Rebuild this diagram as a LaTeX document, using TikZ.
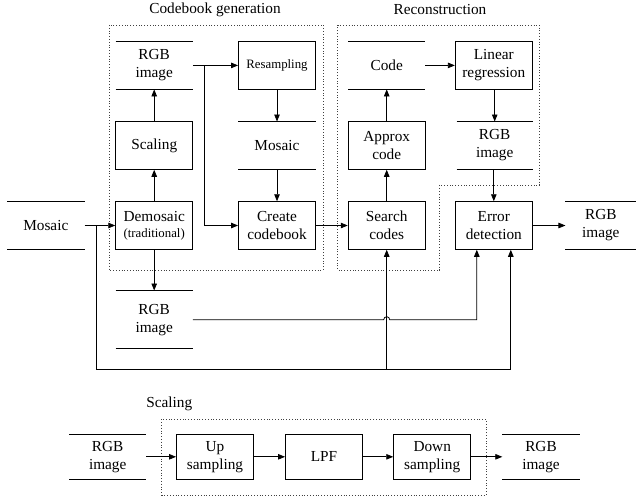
\documentclass[tikz,border=0pt]{standalone}
\usepackage{fontspec}
\setmainfont{Liberation Serif}
\usetikzlibrary{arrows.meta}
\newcommand\smtext{\fontsize{12.8}{15}\selectfont}

\begin{document}
\begin{tikzpicture}[x=1pt,y=-1pt,
  font=\fontsize{15.3}{18}\selectfont,
  blk/.style={draw,line width=0.9pt,minimum width=77pt,minimum height=47.6pt,align=center,inner sep=1pt},
  store/.style={minimum width=77pt,minimum height=47.6pt,align=center,inner sep=1pt},
  flow/.style={line width=0.8pt,-{Triangle[length=7pt,width=5.5pt]}},
  group/.style={dotted,line width=0.8pt,black!75}]
\useasboundingbox (0,0) rectangle (636,498);

% groups
\draw[group] (109,25) rectangle (323,270);
\draw[group] (337.5,25) -- (539.3,25) -- (539.3,185) -- (439.5,185) -- (439.5,270) -- (337.5,270) -- cycle;
\draw[group] (161.7,419.3) rectangle (486,495);
\draw (215,10) node (cbtitle) {Codebook generation};
\draw (440,10) node (rctitle) {Reconstruction};
\draw (169.3,404) node (sctitle) {Scaling};

% codebook generation
\draw (45.8,225.5) node[store] (mosaicIn) {Mosaic};
\draw (154.2,225.5) node[blk] (demosaic) {Demosaic\\[-2pt]{\smtext(traditional)}};
\draw (154.2,145.5) node[blk] (scaling) {Scaling};
\draw (154.2,65.4) node[store] (rgbTop) {RGB\\image};
\draw (154.2,319.7) node[store,minimum height=58pt] (rgbBot) {RGB\\image};
\draw (277,65.4) node[blk] (resamp) {\smtext Resampling};
\draw (277,145.5) node[store] (mosaicMid) {Mosaic};
\draw (277,225.5) node[blk] (create) {Create\\codebook};

% reconstruction
\draw (386.7,225.5) node[blk] (search) {Search\\codes};
\draw (386.7,145.5) node[blk] (approx) {Approx\\code};
\draw (386.7,65.4) node[store] (code) {Code};
\draw (493.8,65.4) node[blk] (linreg) {Linear\\regression};
\draw (494.7,145.5) node[store,minimum width=76pt] (rgbMid) {RGB\\image};
\draw (493.8,225.5) node[blk] (errdet) {Error\\detection};
\draw (600.8,225.5) node[store,minimum width=70.3pt] (rgbOut) {RGB\\image};

% scaling
\draw (107.7,456.8) node[store,minimum height=45pt] (rgbIn2) {RGB\\image};
\draw (215,456.8) node[blk,minimum height=45pt] (upS) {Up\\sampling};
\draw (324,456.8) node[blk,minimum height=45pt] (lpf) {LPF};
\draw (432.2,456.8) node[blk,minimum height=45pt] (downS) {Down\\sampling};
\draw (541,456.8) node[store,minimum height=45pt] (rgbOut2) {RGB\\image};

\foreach \s in {mosaicIn,rgbTop,rgbBot,mosaicMid,code,rgbMid,rgbOut,rgbIn2,rgbOut2}
  \draw[line width=0.9pt] (\s.north west) -- (\s.north east) (\s.south west) -- (\s.south east);

% connectors
\draw (96.7,225.5) coordinate (split);
\draw (96.7,369) coordinate (loop);
\draw (204,65.4) coordinate (fork);
\draw[flow] (mosaicIn.east) -- (demosaic.west);
\draw[flow] (split) -- (loop) -| ([xshift=17pt]errdet.south);
\draw[flow] (loop -| search.south) -- (search.south);
\draw[flow] (demosaic) -- (scaling);
\draw[flow] (scaling) -- (rgbTop);
\draw[flow] (demosaic) -- (rgbBot);
\draw[flow] (rgbTop.east) -- (resamp.west);
\draw[flow] (fork) |- (create.west);
\draw[flow] (resamp) -- (mosaicMid);
\draw[flow] (mosaicMid) -- (create);
\draw[flow] (create) -- (search);
\draw[flow] (search) -- (approx);
\draw[flow] (approx) -- (code);
\draw[flow] (code) -- (linreg);
\draw[flow] (linreg.south -| rgbMid.north) -- (rgbMid.north);
\draw[flow] (rgbMid.south -| errdet.north) -- (errdet.north);
\draw[flow] (errdet) -- (rgbOut);
\draw[flow] (rgbBot.east) -- ([xshift=-3pt]search.south |- rgbBot.east)
  arc[start angle=180,end angle=360,radius=3] -| ([xshift=-17pt]errdet.south);
\draw[flow] (rgbIn2) -- (upS);
\draw[flow] (upS) -- (lpf);
\draw[flow] (lpf) -- (downS);
\draw[flow] (downS) -- (rgbOut2);
\end{tikzpicture}
\end{document}
